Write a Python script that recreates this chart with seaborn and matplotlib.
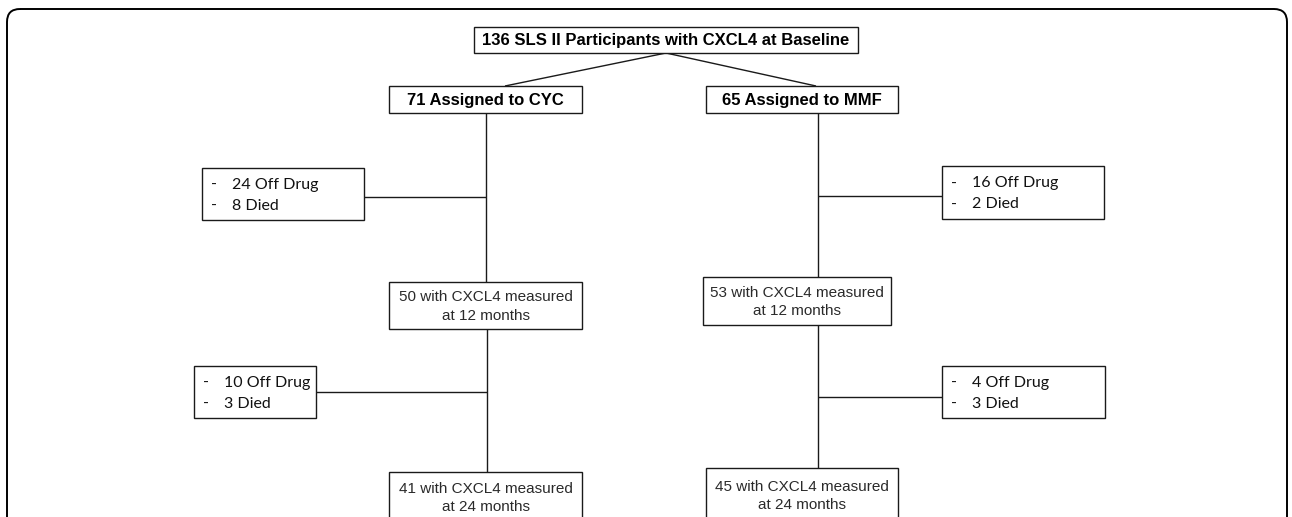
import matplotlib
matplotlib.use("Agg")
import matplotlib.pyplot as plt
import seaborn as sns
from matplotlib.patches import Rectangle, FancyBboxPatch

# flowchart contents
top_label = "136 SLS II Participants with CXCL4 at Baseline"
arm_labels = ["71 Assigned to CYC", "65 Assigned to MMF"]
month12_counts = [50, 53]
month24_counts = [41, 45]
off_drug_12 = [24, 16]
died_12 = [8, 2]
off_drug_24 = [10, 4]
died_24 = [3, 3]

# layout in pixel coordinates (x0, y0, x1, y1), y grows downward
top_box = (474, 27, 858, 53)
arm_boxes = [(389, 86, 582, 113), (706, 86, 898, 113)]
m12_boxes = [(389, 282, 582, 329), (703, 277, 891, 325)]
m24_boxes = [(389, 472, 582, 522), (706, 468, 898, 522)]
loss12_boxes = [(202, 168, 364, 220), (942, 166, 1104, 219)]
loss24_boxes = [(194, 366, 316, 418), (942, 366, 1105, 418)]
trunk_x = [486, 818]
trunk_x2 = [487, 818]
loss12_y = [197, 196]
loss24_y = [392, 397]
diag_ends = [505, 816]

W, H = 1292, 517

sns.set_theme(style="white")
plt.rcParams["font.family"] = ["Liberation Sans", "DejaVu Sans"]

fig = plt.figure(figsize=(W / 100, H / 100), dpi=100)
ax = fig.add_axes([0, 0, 1, 1])
ax.set_xlim(0, W)
ax.set_ylim(H, 0)
ax.axis("off")

LW = 1.0
EDGE = "#1a1a1a"


def box(b, text=None, bold=False, size=11, color="#2a2a2a"):
    x0, y0, x1, y1 = b
    ax.add_patch(Rectangle((x0, y0), x1 - x0, y1 - y0, fill=True,
                           facecolor="white", edgecolor=EDGE, lw=LW, zorder=3))
    if text:
        ax.text((x0 + x1) / 2, (y0 + y1) / 2 + 1, text, ha="center", va="center",
                fontsize=size, fontweight="bold" if bold else "normal",
                color="black" if bold else color, linespacing=1.4, zorder=4)


def loss_box(b, off, died):
    x0, y0, x1, y1 = b
    box(b)
    yc = (y0 + y1) / 2 + 1.5
    for dy, txt in [(-10.5, f"{off} Off Drug"), (10.5, f"{died} Died")]:
        ax.text(x0 + 9, yc + dy, "-", ha="left", va="center", fontsize=11.5,
                family=["Lato", "DejaVu Sans"], color="#111111", zorder=4)
        ax.text(x0 + 30, yc + dy, txt, ha="left", va="center", fontsize=11.5,
                family=["Lato", "DejaVu Sans"], color="#111111", zorder=4)


def seg(xs, ys):
    ax.plot(xs, ys, color=EDGE, lw=LW, solid_capstyle="butt", zorder=2)


# outer rounded frame
ax.add_patch(FancyBboxPatch((7, 9), 1280, 560,
                            boxstyle="round,pad=0,rounding_size=13",
                            fill=False, edgecolor="black", lw=1.4, zorder=1))

box(top_box, top_label, bold=True, size=12)
top_cx = (top_box[0] + top_box[2]) / 2
for i in range(2):
    seg([top_cx, diag_ends[i]], [top_box[3], arm_boxes[i][1]])
    box(arm_boxes[i], arm_labels[i], bold=True, size=12)

    seg([trunk_x[i], trunk_x[i]], [arm_boxes[i][3], m12_boxes[i][1]])
    seg([trunk_x2[i], trunk_x2[i]], [m12_boxes[i][3], m24_boxes[i][1]])

    lb = loss12_boxes[i]
    edge_x = lb[2] if lb[2] < trunk_x[i] else lb[0]
    seg([edge_x, trunk_x[i]], [loss12_y[i], loss12_y[i]])
    loss_box(lb, off_drug_12[i], died_12[i])

    lb = loss24_boxes[i]
    edge_x = lb[2] if lb[2] < trunk_x2[i] else lb[0]
    seg([edge_x, trunk_x2[i]], [loss24_y[i], loss24_y[i]])
    loss_box(lb, off_drug_24[i], died_24[i])

    box(m12_boxes[i], f"{month12_counts[i]} with CXCL4 measured\nat 12 months")
    box(m24_boxes[i], f"{month24_counts[i]} with CXCL4 measured\nat 24 months")

fig.savefig("out.png", dpi=100, facecolor="white")
